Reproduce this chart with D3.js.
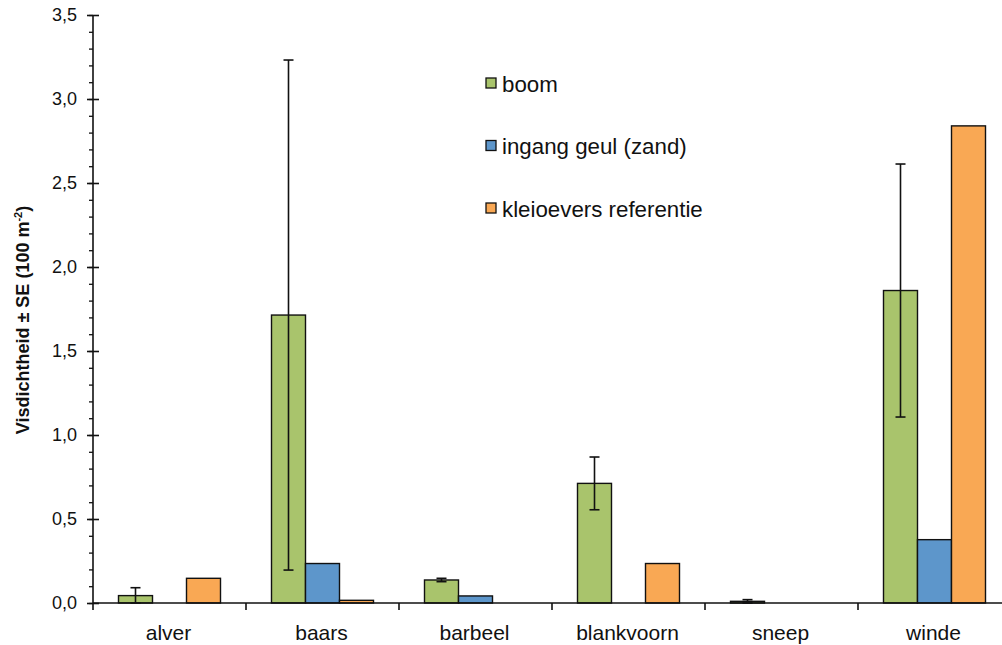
<!DOCTYPE html>
<html>
<head>
<meta charset="utf-8">
<script src="https://cdn.jsdelivr.net/npm/d3@7"></script>
<style>
  html, body { margin: 0; padding: 0; background: #fff; }
  svg { display: block; font-family: "Liberation Sans", Arial, sans-serif; }
</style>
</head>
<body>
<svg id="chart" width="1002" height="645"></svg>
<script>
// Fish density per species and habitat (per 100 m²)
const categories = ["alver", "baars", "barbeel", "blankvoorn", "sneep", "winde"];
const seriesNames = ["boom", "ingang geul (zand)", "kleioevers referentie"];
const boomValues = [0.044, 1.714, 0.137, 0.712, 0.010, 1.860];
const boomSE = [0.047, 1.518, 0.010, 0.157, 0.010, 0.753];
const geulValues = [0, 0.235, 0.042, 0, 0, 0.377];
const kleiValues = [0.147, 0.016, 0, 0.235, 0, 2.84];
const yTicks = [0, 0.5, 1, 1.5, 2, 2.5, 3, 3.5];
const colors = ["#a9c46c", "#5d96cb", "#f9a854"];

const svg = d3.select("#chart");
const x0 = 93, x1 = 1011, yTop = 15, yBottom = 603;

const x = d3.scaleBand().domain(categories).range([x0, x1]);
const xs = d3.scaleBand().domain(seriesNames)
  .range([x.bandwidth() / 6, x.bandwidth() * 5 / 6]);
const y = d3.scaleLinear().domain([0, 3.5]).range([yBottom, yTop]);

const valuesBySeries = [boomValues, geulValues, kleiValues];
const rows = [];
seriesNames.forEach((s, si) => {
  categories.forEach((c, ci) => {
    rows.push({ series: s, si, cat: c, value: valuesBySeries[si][ci],
      se: si === 0 ? boomSE[ci] : null });
  });
});

// bars
svg.append("g").selectAll("rect")
  .data(rows.filter(d => d.value > 0))
  .join("rect")
  .attr("x", d => x(d.cat) + xs(d.series))
  .attr("y", d => y(d.value))
  .attr("width", xs.bandwidth())
  .attr("height", d => y(0) - y(d.value))
  .attr("fill", d => colors[d.si])
  .attr("stroke", "#111")
  .attr("stroke-width", 1.4);

// error bars
const eb = svg.append("g").attr("stroke", "#111").attr("stroke-width", 1.6);
rows.filter(d => d.se != null).forEach(d => {
  const cx = x(d.cat) + xs(d.series) + xs.bandwidth() / 2;
  const lo = Math.max(0, d.value - d.se), hi = d.value + d.se;
  eb.append("line").attr("x1", cx).attr("x2", cx).attr("y1", y(lo)).attr("y2", y(hi));
  eb.append("line").attr("x1", cx - 5).attr("x2", cx + 5).attr("y1", y(hi)).attr("y2", y(hi));
  eb.append("line").attr("x1", cx - 5).attr("x2", cx + 5).attr("y1", y(lo)).attr("y2", y(lo));
});

// y axis: minor ticks every 0.1, major ticks every 0.5
const yAxisG = svg.append("g").attr("transform", `translate(${x0},0)`);
yAxisG.append("g")
  .call(d3.axisLeft(y).tickValues(d3.range(0, 3.51, 0.1)).tickSize(4).tickFormat(""))
  .call(g => g.select(".domain").remove())
  .selectAll("line").attr("stroke", "#111").attr("stroke-width", 1.3);
yAxisG.append("g")
  .call(d3.axisLeft(y).tickValues(yTicks).tickSize(6).tickPadding(10)
    .tickFormat(d => d3.format(".1f")(d).replace(".", ",")))
  .call(g => g.select(".domain").attr("stroke", "#111").attr("stroke-width", 1.6).attr("d", `M0,${yTop}V${yBottom}`))
  .call(g => g.selectAll(".tick line").attr("x2", -6).attr("x1", 6).attr("stroke", "#111").attr("stroke-width", 1.6))
  .call(g => g.selectAll("text").attr("font-size", 18).attr("fill", "#111")
    .attr("font-family", "'Liberation Sans', Arial, sans-serif"));

// x axis
const xAxisG = svg.append("g").attr("transform", `translate(0,${yBottom})`);
xAxisG.append("line").attr("x1", x0).attr("x2", x1).attr("stroke", "#111").attr("stroke-width", 1.6);
xAxisG.selectAll(".sep").data(categories).join("line")
  .attr("x1", d => x(d)).attr("x2", d => x(d)).attr("y1", 0).attr("y2", 7)
  .attr("stroke", "#111").attr("stroke-width", 1.6);
xAxisG.selectAll(".lab").data(categories).join("text")
  .attr("x", d => x(d) + x.bandwidth() / 2 - 1)
  .attr("y", 37)
  .attr("text-anchor", "middle")
  .attr("font-size", 21)
  .attr("fill", "#111")
  .text(d => d);

// y axis title
const title = svg.append("text")
  .attr("transform", "translate(29,320) rotate(-90)")
  .attr("text-anchor", "middle")
  .attr("font-size", 18)
  .attr("font-weight", "bold")
  .attr("fill", "#111");
title.append("tspan").text("Visdichtheid ± SE (100 m");
title.append("tspan").attr("font-size", 11).attr("dy", -7).text("-2");
title.append("tspan").attr("dy", 7).text(")");

// legend
const legend = svg.append("g").attr("transform", "translate(486,78)");
seriesNames.forEach((s, i) => {
  const g = legend.append("g").attr("transform", `translate(0,${i * 62.5})`);
  g.append("rect").attr("width", 10).attr("height", 10)
    .attr("fill", colors[i]).attr("stroke", "#111").attr("stroke-width", 1.3);
  g.append("text").attr("x", 16).attr("y", 13.5)
    .attr("font-size", 22.3).attr("fill", "#111").text(s);
});
</script>
</body>
</html>
